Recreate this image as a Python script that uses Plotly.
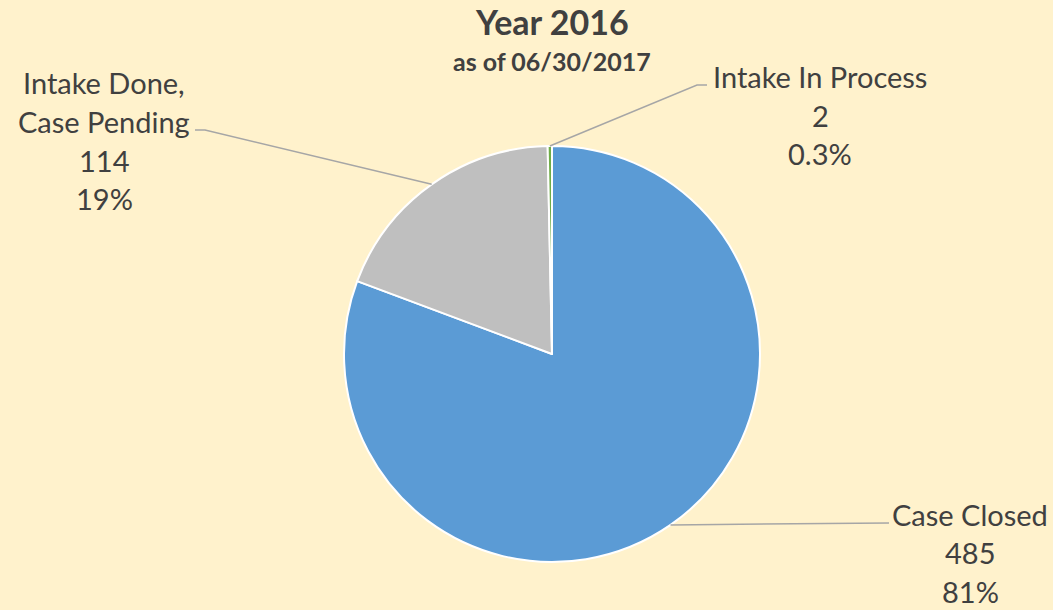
import math
import plotly.graph_objects as go

# data
labels = ["Case Closed", "Intake Done,<br>Case Pending", "Intake In Process"]
label_lines = [["Case Closed"], ["Intake Done,", "Case Pending"], ["Intake In Process"]]
values = [485, 114, 2]
pct_text = ["81%", "19%", "0.3%"]
colors = ["#5B9BD5", "#BFBFBF", "#70AD47"]

W, H = 1053, 610
cx, cy, r = 552, 354, 208          # pie centre / radius in px
font = "Lato, 'Open Sans', sans-serif"
txt_col = "#404040"

# where each label block sits (px): centre x, first line y, line step
label_pos = [(970, 514), (104, 83), (820, 77)]
line_step = 38.5
# leader line elbow and end (px)
leader_ends = [[(889, 523)], [(205, 130), (195, 130)], [(697, 85), (707, 85)]]


def px(x, y):
    return x / W, 1 - y / H


fig = go.Figure(go.Pie(
    labels=labels, values=values, sort=False, direction="clockwise", rotation=0,
    marker=dict(colors=colors, line=dict(color="white", width=2)),
    textinfo="none", hoverinfo="label+value+percent", showlegend=False,
    domain=dict(x=[(cx - r) / W, (cx + r) / W], y=[1 - (cy + r) / H, 1 - (cy - r) / H]),
))

annotations = []
shapes = []
total = sum(values)
start = 0.0
for i, v in enumerate(values):
    frac = v / total
    mid = (start + frac / 2) * 2 * math.pi
    start += frac
    ex, ey = cx + r * math.sin(mid), cy - r * math.cos(mid)
    pts = [(ex, ey)] + leader_ends[i]
    path = ""
    for j, (x, y) in enumerate(pts):
        X, Y = px(x, y)
        path += ("M" if j == 0 else " L") + f" {X} {Y}"
    shapes.append(dict(type="path", xref="paper", yref="paper", path=path,
                       line=dict(color="#A6A6A6", width=1.5)))

    lx, ly = label_pos[i]
    lines = label_lines[i] + [str(v), pct_text[i]]
    for k, t in enumerate(lines):
        X, Y = px(lx, ly + k * line_step)
        annotations.append(dict(text=t, x=X, y=Y, xref="paper", yref="paper",
                                showarrow=False, xanchor="center", yanchor="middle",
                                font=dict(family=font, size=29, color=txt_col)))

tx, ty = px(552, 21)
annotations.append(dict(text="<b>Year 2016</b>", x=tx, y=ty, xref="paper", yref="paper",
                        showarrow=False, xanchor="center", yanchor="middle",
                        font=dict(family=font, size=34, color=txt_col)))
tx, ty = px(552, 61)
annotations.append(dict(text="<b>as of 06/30/2017</b>", x=tx, y=ty, xref="paper", yref="paper",
                        showarrow=False, xanchor="center", yanchor="middle",
                        font=dict(family=font, size=25, color=txt_col)))

fig.update_layout(
    width=W, height=H, margin=dict(l=0, r=0, t=0, b=0),
    paper_bgcolor="#FFF2CC", plot_bgcolor="#FFF2CC",
    annotations=annotations, shapes=shapes,
)
fig.write_html("out.html", config={"displayModeBar": False},
               post_script="document.body.style.margin='0';")
